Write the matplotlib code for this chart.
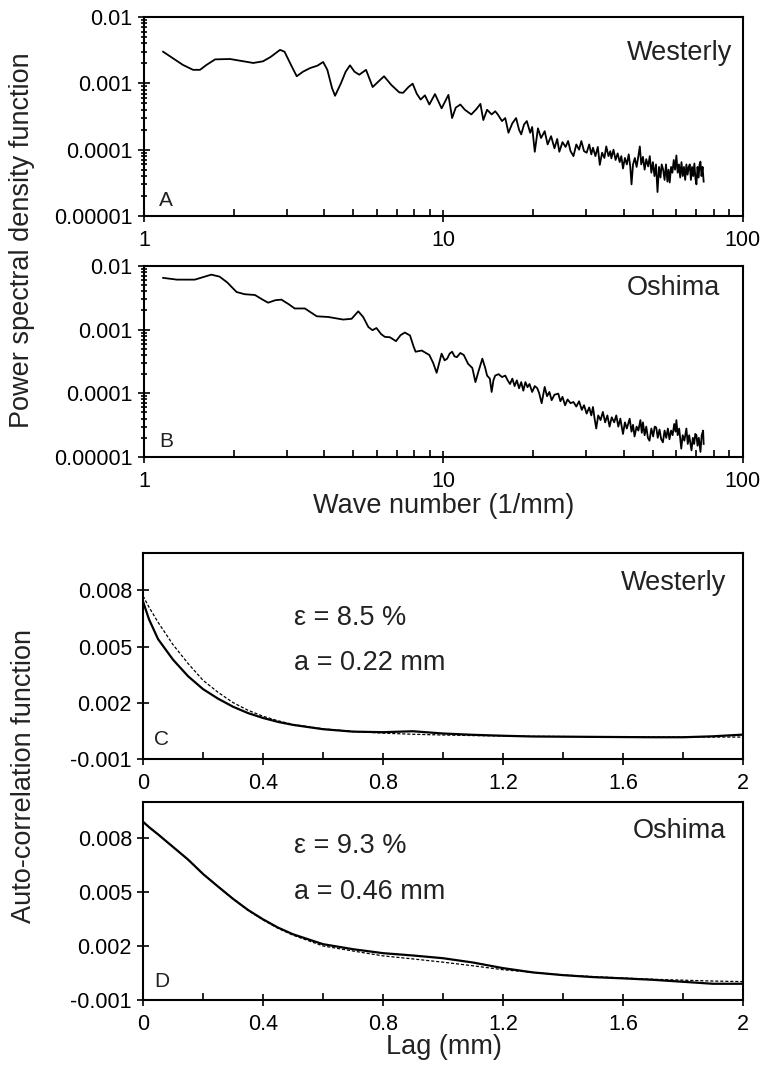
import matplotlib
matplotlib.use("Agg")
import matplotlib.pyplot as plt
from matplotlib.ticker import LogLocator, NullFormatter, MultipleLocator

plt.rcParams['font.family'] = ['Liberation Sans', 'DejaVu Sans']

# --- power spectra (wave number 1/mm, PSD) ---
wn_west = [1.16, 1.25, 1.35, 1.46, 1.54, 1.62, 1.73, 1.94, 2.15, 2.32,
           2.50, 2.65, 2.85, 2.95, 3.10, 3.24, 3.40, 3.59, 3.80, 3.97,
           4.10, 4.25, 4.35, 4.55, 4.72, 4.88, 5.05, 5.24, 5.52, 5.81,
           6.05, 6.34, 6.70, 7.13, 7.34, 7.65, 7.90, 8.15, 8.40, 8.68,
           8.98, 9.38, 9.87, 10.4, 10.7, 11.0, 11.4, 11.8, 12.4, 12.9,
           13.3, 13.6, 14.0, 14.5, 14.9, 15.2, 15.7, 16.1, 16.5, 17.0,
           17.5, 17.9, 18.2, 18.6, 19.0, 19.5, 19.8, 20.2, 20.7, 21.2,
           21.8, 22.3, 22.9, 23.5, 24.0, 24.4, 25.0, 25.6, 26.1, 26.6,
           27.2, 27.8, 28.4, 28.9, 29.5, 30.1, 30.7, 31.2, 31.6, 32.2,
           32.8, 33.3, 33.9, 34.5, 35.0, 35.6, 36.1, 36.4, 37.0, 37.6,
           38.2, 38.8, 39.3, 39.8, 40.4, 41.0, 41.6, 42.1, 42.5, 43.0,
           43.6, 44.2, 44.8, 45.3, 45.8, 46.4, 47.0, 47.6, 48.3, 48.9,
           49.5, 50.1, 50.7, 51.3, 51.9, 52.5, 53.1, 53.6, 54.2, 54.8,
           55.4, 56.0, 56.5, 57.0, 57.6, 58.2, 58.8, 59.4, 60.0, 60.6,
           61.2, 61.8, 62.4, 63.0, 63.6, 64.2, 64.8, 65.4, 66.0, 66.5,
           67.1, 67.7, 68.3, 68.9, 69.5, 70.0, 70.6, 71.2, 71.7, 72.2,
           72.8, 73.4, 74.0]
psd_west = [3.0e-3, 2.4e-3, 1.9e-3, 1.6e-3, 1.6e-3, 1.9e-3, 2.3e-3, 2.33e-3, 2.15e-3, 2.03e-3,
            2.15e-3, 2.5e-3, 3.2e-3, 3.0e-3, 1.9e-3, 1.28e-3, 1.5e-3, 1.7e-3, 1.85e-3, 2.1e-3,
            1.6e-3, 8.5e-4, 6.5e-4, 1.0e-3, 1.5e-3, 1.87e-3, 1.5e-3, 1.35e-3, 1.6e-3, 8.8e-4,
            1.05e-3, 1.28e-3, 9.5e-4, 7.3e-4, 7.2e-4, 8.8e-4, 9.9e-4, 7.0e-4, 5.7e-4, 6.6e-4,
            4.8e-4, 6.9e-4, 4.2e-4, 6.7e-4, 3.0e-4, 4.3e-4, 4.8e-4, 4.0e-4, 3.4e-4, 4.1e-4,
            4.9e-4, 2.8e-4, 4.0e-4, 3.4e-4, 3.8e-4, 3.4e-4, 2.7e-4, 3.0e-4, 1.8e-4, 2.5e-4,
            3.0e-4, 2.0e-4, 1.7e-4, 2.4e-4, 2.7e-4, 1.8e-4, 2.2e-4, 9.3e-5, 2.1e-4, 1.5e-4,
            1.9e-4, 1.2e-4, 1.6e-4, 1.05e-4, 1.45e-4, 9.3e-5, 1.3e-4, 1.1e-4, 1.35e-4, 9.5e-5,
            8.0e-5, 1.2e-4, 1.0e-4, 1.35e-4, 9.5e-5, 9.0e-5, 1.2e-4, 8.5e-5, 1.07e-4, 8.0e-5,
            1.1e-4, 5.9e-5, 9.0e-5, 7.5e-5, 1.12e-4, 8.0e-5, 9.5e-5, 7.4e-5, 1.0e-4, 7.0e-5,
            8.8e-5, 6.5e-5, 8.0e-5, 5.2e-5, 7.5e-5, 6.0e-5, 8.5e-5, 5.5e-5, 3.0e-5, 6.0e-5,
            7.5e-5, 5.5e-5, 8.0e-5, 1.12e-4, 6.0e-5, 7.8e-5, 5.0e-5, 7.2e-5, 5.6e-5, 8.0e-5,
            4.5e-5, 6.5e-5, 4.0e-5, 6.0e-5, 2.3e-5, 5.5e-5, 3.8e-5, 6.0e-5, 5.0e-5, 3.5e-5,
            6.0e-5, 3.3e-5, 5.0e-5, 3.2e-5, 5.5e-5, 4.5e-5, 7.0e-5, 5.0e-5, 8.2e-5, 4.5e-5,
            6.0e-5, 3.8e-5, 6.5e-5, 4.0e-5, 5.5e-5, 3.5e-5, 6.0e-5, 4.2e-5, 5.5e-5, 6.0e-5,
            3.5e-5, 5.5e-5, 4.0e-5, 6.2e-5, 3.6e-5, 3.0e-5, 5.5e-5, 3.8e-5, 6.0e-5, 6.6e-5,
            4.0e-5, 5.5e-5, 3.3e-5]

wn_osh = [1.16, 1.22, 1.29, 1.40, 1.48, 1.58, 1.68, 1.79, 1.90, 2.04,
          2.17, 2.35, 2.48, 2.60, 2.75, 2.88, 3.05, 3.19, 3.45, 3.62,
          3.78, 4.13, 4.40, 4.63, 4.94, 5.20, 5.40, 5.62, 5.80, 5.98,
          6.20, 6.38, 6.63, 6.95, 7.20, 7.44, 7.74, 7.95, 8.08, 8.47,
          8.75, 8.98, 9.25, 9.50, 9.65, 9.87, 10.1, 10.3, 10.5, 10.7,
          10.9, 11.1, 11.4, 11.7, 11.9, 12.1, 12.5, 12.8, 13.1, 13.5,
          13.8, 14.0, 14.3, 14.5, 14.7, 14.9, 15.3, 15.7, 16.1, 16.4,
          16.7, 17.0, 17.3, 17.6, 17.9, 18.2, 18.5, 18.8, 19.1, 19.4,
          19.8, 20.2, 20.6, 20.9, 21.3, 21.8, 22.2, 22.6, 23.0, 23.5,
          24.2, 24.6, 25.0, 25.5, 26.0, 26.6, 27.2, 27.8, 28.4, 29.0,
          29.5, 30.1, 30.7, 31.2, 31.6, 32.0, 32.4, 32.9, 33.5, 34.1,
          34.7, 35.3, 35.9, 36.5, 37.2, 37.8, 38.4, 39.0, 39.8, 40.4,
          41.0, 41.9, 42.5, 43.0, 43.5, 44.2, 44.8, 45.5, 46.0, 46.4,
          47.0, 47.6, 48.2, 48.8, 49.5, 50.2, 50.8, 51.4, 52.0, 52.7,
          53.4, 54.1, 54.8, 55.5, 56.2, 56.9, 57.6, 58.3, 59.0, 59.6,
          60.0, 60.6, 61.3, 62.3, 63.0, 63.8, 64.8, 65.5, 66.2, 67.4,
          68.1, 68.8, 69.4, 70.0, 70.6, 71.3, 72.2, 72.9, 73.7, 74.0]
psd_osh = [6.5e-3, 6.3e-3, 6.1e-3, 6.1e-3, 6.1e-3, 6.7e-3, 7.3e-3, 6.8e-3, 5.5e-3, 3.9e-3,
           3.6e-3, 3.5e-3, 3.0e-3, 2.65e-3, 2.9e-3, 2.96e-3, 2.5e-3, 2.15e-3, 2.15e-3, 1.85e-3,
           1.62e-3, 1.58e-3, 1.5e-3, 1.44e-3, 1.48e-3, 1.94e-3, 1.58e-3, 1.1e-3, 9.8e-4, 1.06e-3,
           8.5e-4, 7.7e-4, 7.6e-4, 6.6e-4, 8.2e-4, 9.0e-4, 8.1e-4, 5.5e-4, 4.5e-4, 4.7e-4,
           4.3e-4, 4.0e-4, 3.0e-4, 2.1e-4, 2.8e-4, 4.2e-4, 3.3e-4, 3.5e-4, 4.2e-4, 4.5e-4,
           3.8e-4, 3.7e-4, 4.3e-4, 4.0e-4, 3.4e-4, 2.9e-4, 2.5e-4, 1.5e-4, 2.2e-4, 3.5e-4,
           2.5e-4, 1.9e-4, 1.7e-4, 1.05e-4, 1.6e-4, 1.9e-4, 2.0e-4, 1.8e-4, 1.9e-4, 1.6e-4,
           1.4e-4, 1.7e-4, 1.3e-4, 1.6e-4, 1.2e-4, 1.5e-4, 1.1e-4, 1.5e-4, 1.25e-4, 1.4e-4,
           1.05e-4, 1.3e-4, 1.2e-4, 1.0e-4, 7.0e-5, 1.26e-4, 9.0e-5, 1.05e-4, 7.8e-5, 9.5e-5,
           9.9e-5, 7.5e-5, 8.8e-5, 6.5e-5, 8.0e-5, 7.0e-5, 7.3e-5, 6.2e-5, 7.5e-5, 5.5e-5,
           6.5e-5, 4.8e-5, 6.0e-5, 4.5e-5, 6.1e-5, 4.0e-5, 2.8e-5, 4.5e-5, 3.8e-5, 5.1e-5,
           3.5e-5, 4.5e-5, 3.0e-5, 4.2e-5, 3.5e-5, 4.5e-5, 3.0e-5, 4.0e-5, 2.3e-5, 3.5e-5,
           2.8e-5, 4.0e-5, 2.5e-5, 3.2e-5, 2.1e-5, 3.0e-5, 2.6e-5, 3.8e-5, 2.4e-5, 3.5e-5,
           2.2e-5, 3.0e-5, 2.0e-5, 1.8e-5, 2.8e-5, 2.1e-5, 3.0e-5, 2.9e-5, 2.0e-5, 2.7e-5,
           1.9e-5, 1.7e-5, 2.6e-5, 2.0e-5, 2.8e-5, 1.9e-5, 2.6e-5, 2.2e-5, 3.3e-5, 2.5e-5,
           3.8e-5, 2.2e-5, 2.8e-5, 1.35e-5, 2.2e-5, 1.8e-5, 2.8e-5, 1.6e-5, 2.2e-5, 1.27e-5,
           2.0e-5, 1.6e-5, 2.3e-5, 2.2e-5, 1.5e-5, 2.0e-5, 1.2e-5, 2.2e-5, 2.6e-5, 1.6e-5]

# --- auto-correlation (lag in mm) ---
lag = [0.0, 0.02, 0.05, 0.1, 0.15, 0.2, 0.25, 0.3, 0.35, 0.4,
       0.45, 0.5, 0.6, 0.7, 0.8, 0.9, 1.0, 1.1, 1.2, 1.3,
       1.4, 1.5, 1.6, 1.7, 1.8, 1.9, 2.0]
acf_west = [0.0074, 0.00645, 0.0054, 0.0043, 0.00342, 0.00273, 0.00222, 0.00179, 0.00145, 0.00119,
            0.00098, 0.00082, 0.00059, 0.00046, 0.00043, 0.00048, 0.00036, 0.00029, 0.00024, 0.0002,
            0.00019, 0.00018, 0.00017, 0.00016, 0.00016, 0.00021, 0.0003]
fit_west = [0.0077, 0.0071, 0.0063, 0.0051, 0.0041, 0.0032, 0.00256, 0.00201, 0.0016, 0.00128,
            0.00104, 0.00084, 0.00061, 0.00047, 0.00038, 0.00032, 0.00028, 0.00025, 0.00023, 0.00021,
            0.0002, 0.00019, 0.00018, 0.00018, 0.00017, 0.00017, 0.00017]
acf_osh = [0.0089, 0.0086, 0.0082, 0.0075, 0.0068, 0.006, 0.0053, 0.00462, 0.004, 0.00348,
           0.00302, 0.00265, 0.0021, 0.00182, 0.0016, 0.00147, 0.00132, 0.00108, 0.00077, 0.00053,
           0.00038, 0.00027, 0.0002, 0.00012, 0.00001, -0.0001, -0.0001]
fit_osh = [0.0089, 0.0086, 0.0082, 0.0075, 0.0068, 0.006, 0.0053, 0.0046, 0.00398, 0.00345,
           0.00298, 0.0026, 0.002, 0.00172, 0.00145, 0.00128, 0.0011, 0.0009, 0.00068, 0.00053,
           0.00039, 0.0003, 0.00022, 0.00015, 0.0001, 0.00005, 0.00002]

tick_fs = 15.5
big_fs = 19.5

fig = plt.figure(figsize=(7.65, 10.72), dpi=100)
axA = fig.add_axes([0.188, 0.7985, 0.783, 0.1856])
axB = fig.add_axes([0.188, 0.5737, 0.783, 0.1782])
axC = fig.add_axes([0.187, 0.2920, 0.784, 0.1922])
axD = fig.add_axes([0.187, 0.0672, 0.784, 0.1847])


def style_box(ax):
    for s in ax.spines.values():
        s.set_linewidth(1.5)
    ax.tick_params(which='both', top=False, right=False, labelsize=tick_fs, width=1.2)
    ax.tick_params(axis='y', which='major', direction='inout', length=8, pad=4)
    ax.tick_params(axis='y', which='minor', direction='inout', length=5)
    ax.tick_params(axis='x', which='major', direction='inout', length=8, pad=6)
    ax.tick_params(axis='x', which='minor', direction='in', length=5)


for ax, k, p, name, letter in [(axA, wn_west, psd_west, 'Westerly', 'A'),
                               (axB, wn_osh, psd_osh, 'Oshima', 'B')]:
    ax.plot(k, p, color='black', lw=1.3, solid_joinstyle='round')
    ax.set_xscale('log')
    ax.set_yscale('log')
    ax.set_xlim(1, 100)
    ax.set_ylim(1e-5, 1e-2)
    ax.set_xticks([1, 10, 100], labels=['1', '10', '100'])
    ax.set_yticks([1e-5, 1e-4, 1e-3, 1e-2], labels=['0.00001', '0.0001', '0.001', '0.01'])
    ax.xaxis.set_minor_locator(LogLocator(base=10, subs=range(2, 10)))
    ax.yaxis.set_minor_locator(LogLocator(base=10, subs=range(2, 10)))
    ax.xaxis.set_minor_formatter(NullFormatter())
    ax.yaxis.set_minor_formatter(NullFormatter())
    style_box(ax)
    ax.text(0.025, 0.05, letter, transform=ax.transAxes, fontsize=15, color='#222222')

axA.text(0.982, 0.784, 'Westerly', transform=axA.transAxes, ha='right', va='baseline',
         fontsize=big_fs, color='#222222')
axB.text(0.962, 0.848, 'Oshima', transform=axB.transAxes, ha='right', va='baseline',
         fontsize=big_fs, color='#222222')

acf_sets = [(axC, acf_west, fit_west, 'Westerly', 'C', 'ε = 8.5 %', 'a = 0.22 mm',
             0.820, 0.650, 0.432),
            (axD, acf_osh, fit_osh, 'Oshima', 'D', 'ε = 9.3 %', 'a = 0.46 mm',
             0.817, 0.741, 0.509)]
for ax, acf, fit, name, letter, eps, corr, y_name, y_eps, y_a in acf_sets:
    ax.plot(lag, acf, color='black', lw=1.6)
    ax.plot(lag, fit, color='black', lw=0.9, ls=(0, (2.5, 1.5)))
    ax.set_xlim(0, 2)
    ax.set_ylim(-0.001, 0.010)
    ax.set_xticks([0, 0.4, 0.8, 1.2, 1.6, 2], labels=['0', '0.4', '0.8', '1.2', '1.6', '2'])
    ax.xaxis.set_minor_locator(MultipleLocator(0.2))
    ax.set_yticks([-0.001, 0.002, 0.005, 0.008], labels=['-0.001', '0.002', '0.005', '0.008'])
    style_box(ax)
    ax.text(0.973, y_name, name, transform=ax.transAxes, ha='right', va='baseline',
            fontsize=big_fs, color='#222222')
    ax.text(0.252, y_eps, eps, transform=ax.transAxes, va='baseline', fontsize=big_fs,
            color='#222222')
    ax.text(0.252, y_a, corr, transform=ax.transAxes, va='baseline', fontsize=big_fs,
            color='#222222')
    ax.text(0.018, 0.066, letter, transform=ax.transAxes, va='baseline', fontsize=15,
            color='#222222')

fig.text(0.029, 0.776, 'Power spectral density function', rotation=90, ha='center',
         va='center', fontsize=big_fs, color='#222222')
fig.text(0.031, 0.2757, 'Auto-correlation function', rotation=90, ha='center',
         va='center', fontsize=big_fs, color='#222222')
fig.text(0.58, 0.528, 'Wave number (1/mm)', ha='center', va='center', fontsize=big_fs,
         color='#222222')
fig.text(0.58, 0.0233, 'Lag (mm)', ha='center', va='center', fontsize=big_fs,
         color='#222222')

fig.savefig('out.png', dpi=100)
